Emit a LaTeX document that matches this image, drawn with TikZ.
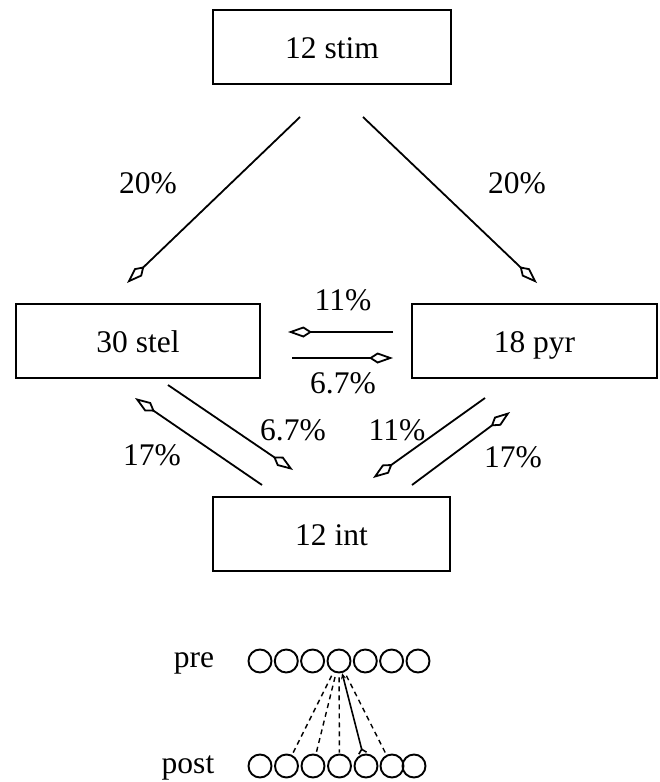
\documentclass[tikz,border=0pt]{standalone}
\usepackage{fontspec}
\setmainfont{Liberation Serif}
\usetikzlibrary{arrows.meta}
\begin{document}
\begin{tikzpicture}[x=1pt,y=-1pt,
 box/.style={draw,line width=2pt,minimum width=#1,minimum height=74pt,inner sep=0pt,text height=23pt,text depth=0pt,font=\fontsize{31.5}{36}\selectfont},
 lbl/.style={font=\fontsize{31.5}{36}\selectfont,inner sep=0pt},
 conn/.style={line width=1.8pt,-{Kite[open,length=24pt,width=11pt,inset=8.5pt,line width=1.8pt]}},
 cell/.style={circle,draw,line width=1.9pt,minimum size=23pt,inner sep=0pt},
 dashline/.style={line width=1.4pt,dash pattern=on 5pt off 4pt,shorten <=4pt,shorten >=1pt},
 wline/.style={line width=1.6pt,{Straight Barb[reversed,length=4pt,width=8pt]}-{Stealth[length=6pt,width=5pt]}}]
\useasboundingbox (0,0) rectangle (660,782);
% boxes
\node[box=238pt] (stim) at (332,46.5) {12 stim};
\node[box=244pt] (stel) at (138,341) {30 stel};
\node[box=245pt] (pyr) at (534.5,341) {18 pyr};
\node[box=237pt] (int) at (331.5,533.5) {12 int};
% connector end points
\coordinate (a1s) at (300,117); \coordinate (a1e) at (127,283);
\coordinate (a2s) at (363,117); \coordinate (a2e) at (537,283);
\coordinate (a3s) at (393,332); \coordinate (a3e) at (288,332);
\coordinate (a4s) at (292,358); \coordinate (a4e) at (393,358);
\coordinate (a5s) at (262,485); \coordinate (a5e) at (135,398);
\coordinate (a6s) at (168,385); \coordinate (a6e) at (293,470);
\coordinate (a7s) at (485,398); \coordinate (a7e) at (373,478);
\coordinate (a8s) at (412,485); \coordinate (a8e) at (510,412);
\draw[conn] (a1s) -- (a1e);
\draw[conn] (a2s) -- (a2e);
\draw[conn] (a3s) -- (a3e);
\draw[conn] (a4s) -- (a4e);
\draw[conn] (a5s) -- (a5e);
\draw[conn] (a6s) -- (a6e);
\draw[conn] (a7s) -- (a7e);
\draw[conn] (a8s) -- (a8e);
% labels
\node[lbl] (l1) at (148,183) {20\%};
\node[lbl] (l2) at (517,183) {20\%};
\node[lbl] (l3) at (343,300) {11\%};
\node[lbl] (l4) at (343,383) {6.7\%};
\node[lbl] (l5) at (152,455) {17\%};
\node[lbl] (l6) at (293,430) {6.7\%};
\node[lbl] (l7) at (397,430) {11\%};
\node[lbl] (l8) at (513,457) {17\%};
% pre / post
\node[lbl] (pre) at (194,663) {pre};
\node[lbl] (post) at (188,768) {post};
\foreach \i/\x in {1/260,2/286.3,3/312.6,4/339,5/365.3,6/391.6,7/418}
  \node[cell] (p\i) at (\x,661) {};
\foreach \i/\x in {1/260,2/286.5,3/313,4/339.5,5/366,6/392,7/414}
  \node[cell] (q\i) at (\x,766) {};
\draw[dashline] (p4) -- (q2);
\draw[dashline] (p4) -- (q3);
\draw[dashline] (p4) -- (q4);
\draw[dashline] (p4) -- (q6);
\draw[wline] (q5) -- (p4);
\end{tikzpicture}
\end{document}
